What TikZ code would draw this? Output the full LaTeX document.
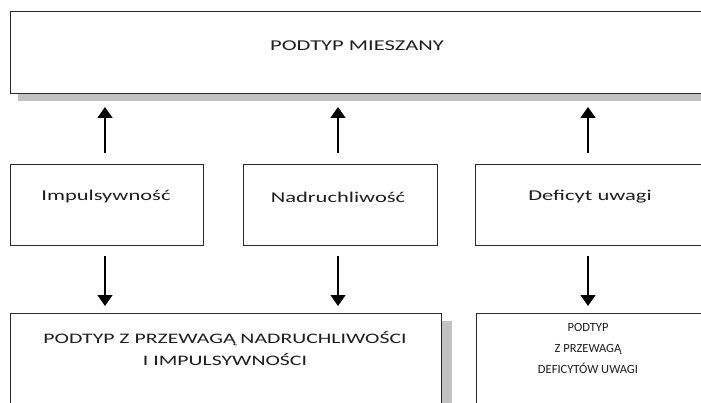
\documentclass[tikz,border=0pt]{standalone}
\usepackage{fontspec}
\setmainfont{Carlito}
\newfontfamily\wide[FakeStretch=1.5]{Carlito}
\usetikzlibrary{arrows.meta}
\definecolor{edge}{HTML}{2A2A2A}
\definecolor{shade}{HTML}{C2C2C2}
\definecolor{ink}{HTML}{1E1E1E}
\tikzset{
  box/.style={draw=edge, line width=1.4pt, fill=white, rectangle, inner sep=0pt, anchor=north west},
  shadowbox/.style={fill=shade, draw=none, rectangle, inner sep=0pt, anchor=north west},
  txt/.style={text=ink, font=\wide\fontsize{15}{21}\selectfont, align=center, inner sep=0pt},
  smalltxt/.style={text=ink, font=\fontsize{12.5}{21}\selectfont, align=center, inner sep=0pt},
  arr/.style={draw=black, line width=1.3pt, -{Triangle[width=15pt,length=11pt]}}
}
\begin{document}
\begin{tikzpicture}[x=1pt,y=-1pt]
\useasboundingbox (0,0) rectangle (701,403);
% shadows
\node[shadowbox, minimum width=690pt, minimum height=8pt] (topsh) at (18,93) {};
\node[shadowbox, minimum width=11pt, minimum height=90pt] (blsh) at (441,321) {};
% top box
\node[box, minimum width=695pt, minimum height=82pt] (top) at (10,11) {};
\node[txt] (toptxt) at (357,46) {PODTYP MIESZANY};
% middle boxes
\node[box, minimum width=193pt, minimum height=81pt] (imp) at (10,164) {};
\node[box, minimum width=194pt, minimum height=81pt] (nad) at (243,164) {};
\node[box, minimum width=240pt, minimum height=81pt] (def) at (475,164) {};
\node[txt] (imptxt) at (106,197) {Impulsywność};
\node[txt] (nadtxt) at (338,197) {Nadruchliwość};
\node[txt] (deftxt) at (590,197) {Deficyt uwagi};
% bottom boxes
\node[box, minimum width=431pt, minimum height=100pt] (bl) at (10,313) {};
\node[box, minimum width=240pt, minimum height=100pt] (br) at (476,313) {};
\node[txt, font=\wide\fontsize{14.5}{22}\selectfont] (bltxt) at (225,348) {PODTYP Z PRZEWAGĄ NADRUCHLIWOŚCI\\I IMPULSYWNOŚCI};
\node[smalltxt] (brtxt) at (588,348) {PODTYP\\Z PRZEWAGĄ\\DEFICYTÓW UWAGI};
% arrows up
\coordinate (a1s) at (105,153); \coordinate (a1e) at (105,107);
\coordinate (a2s) at (338,153); \coordinate (a2e) at (338,107);
\coordinate (a3s) at (588,153); \coordinate (a3e) at (588,107);
\draw[arr] (a1s) -- (a1e);
\draw[arr] (a2s) -- (a2e);
\draw[arr] (a3s) -- (a3e);
% arrows down
\coordinate (b1s) at (105,256); \coordinate (b1e) at (105,306);
\coordinate (b2s) at (338,256); \coordinate (b2e) at (338,306);
\coordinate (b3s) at (588,256); \coordinate (b3e) at (588,306);
\draw[arr] (b1s) -- (b1e);
\draw[arr] (b2s) -- (b2e);
\draw[arr] (b3s) -- (b3e);
\end{tikzpicture}
\end{document}
